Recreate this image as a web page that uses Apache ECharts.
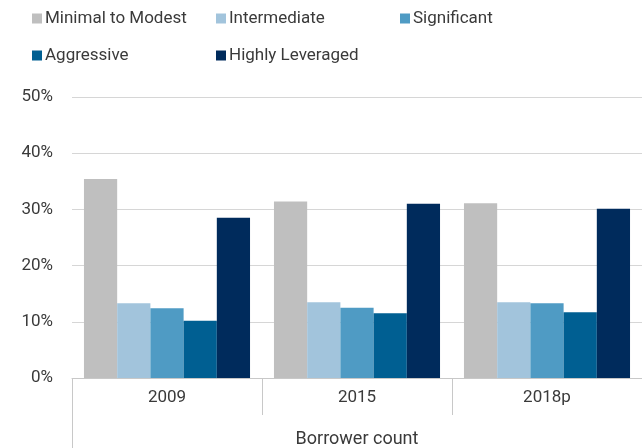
<!DOCTYPE html>
<html>
<head>
<meta charset="utf-8">
<script src="https://cdn.jsdelivr.net/npm/echarts@6/dist/echarts.min.js"></script>
<style>
  html, body { margin: 0; padding: 0; background: #fff; }
  #chart { width: 642px; height: 448px; }
</style>
</head>
<body>
<div id="chart"></div>
<script>
  // 数据
  var years = ['2009', '2015', '2018p'];
  var minimalToModest = [35.4, 31.4, 31.1];
  var intermediate = [13.3, 13.5, 13.5];
  var significant = [12.4, 12.5, 13.3];
  var aggressive = [10.2, 11.5, 11.7];
  var highlyLeveraged = [28.5, 31.0, 30.1];

  var names = ['Minimal to Modest', 'Intermediate', 'Significant', 'Aggressive', 'Highly Leveraged'];
  var colors = ['#bfbfbf', '#a2c4dc', '#4f9bc4', '#005f92', '#002b5c'];
  var values = [minimalToModest, intermediate, significant, aggressive, highlyLeveraged];

  var font = 'Roboto';
  var textColor = '#3a3a3a';

  // 图例位置（每项一个）
  var legendPos = [[32, 10], [216, 10], [400, 10], [32, 47], [216, 47]];
  var legends = names.map(function (n, i) {
    return {
      data: [n],
      left: legendPos[i][0],
      top: legendPos[i][1],
      itemWidth: 10,
      itemHeight: 10,
      itemGap: 0,
      icon: 'rect',
      textStyle: { fontFamily: font, fontSize: 17, color: textColor, padding: [0, 0, 0, -2] },
      padding: 0
    };
  });

  var chart = echarts.init(document.getElementById('chart'));

  var option = {
    animation: false,
    legend: legends,
    grid: { left: 72, right: 0, top: 97, bottom: 70 },
    xAxis: [{
      type: 'category',
      data: years,
      axisLine: { lineStyle: { color: '#c8c8c8', width: 1 } },
      axisTick: { show: true, length: 37, lineStyle: { color: '#c8c8c8' } },
      axisLabel: { fontFamily: font, fontSize: 17, color: textColor, margin: 11 }
    }, {
      // 第二层分类轴
      type: 'category',
      data: ['Borrower count'],
      position: 'bottom',
      axisLine: { show: false },
      axisTick: { show: true, length: 70, lineStyle: { color: '#c8c8c8' } },
      axisLabel: { fontFamily: font, fontSize: 18, color: textColor, margin: 52 },
      splitLine: { show: false }
    }],
    yAxis: {
      type: 'value',
      min: 0,
      max: 50,
      interval: 10,
      axisLine: { show: false },
      axisTick: { show: false },
      axisLabel: { formatter: '{value}%', fontFamily: font, fontSize: 17, color: textColor, margin: 19 },
      splitLine: { lineStyle: { color: '#d6d6d6', width: 1 } }
    },
    series: names.map(function (n, i) {
      return {
        name: n,
        type: 'bar',
        data: values[i],
        itemStyle: { color: colors[i] },
        barGap: '0%',
        barCategoryGap: '12.6%'
      };
    })
  };

  chart.setOption(option);
</script>
</body>
</html>
